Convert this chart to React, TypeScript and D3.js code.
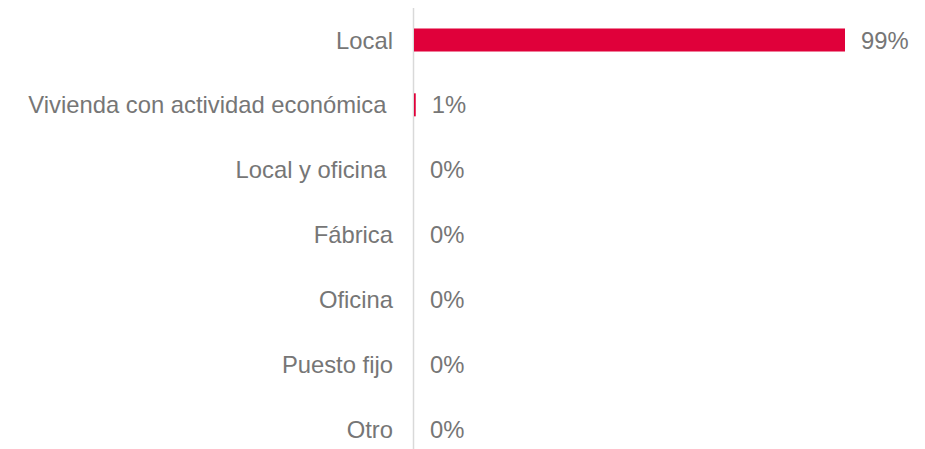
import React from "react";
import * as d3 from "d3";

const categories = [
  "Local",
  "Vivienda con actividad económica ",
  "Local y oficina ",
  "Fábrica",
  "Oficina",
  "Puesto fijo",
  "Otro",
];
const values = [99.4, 0.4, 0, 0, 0, 0, 0];
const valueLabels = ["99%", "1%", "0%", "0%", "0%", "0%", "0%"];

const W = 925;
const H = 449;

export default function App() {
  const x = d3.scaleLinear().domain([0, 100]).range([414, 847.6]);
  const step = (429 - 40) / 6;
  const p = 0.645;
  const y = d3
    .scaleBand<string>()
    .domain(categories)
    .range([40 - step / 2, 429 + step / 2])
    .paddingInner(p)
    .paddingOuter(p / 2);
  const font = "'Liberation Sans', Arial, sans-serif";
  const textColor = "#767676";
  return (
    <svg
      width={W}
      height={H}
      style={{ position: "absolute", left: 0, top: 0, background: "#fff" }}
    >
      <line x1={413.5} x2={413.5} y1={8} y2={H} stroke="#d9d9d9" strokeWidth={1.5} />
      {categories.map((c, i) => {
        const yy = y(c)!;
        const cy = yy + y.bandwidth() / 2;
        const w = x(values[i]) - x(0);
        return (
          <g key={c}>
            {w > 0 && (
              <rect x={x(0)} y={yy} width={w} height={y.bandwidth()} fill="#E0003A" />
            )}
            <text
              x={393}
              y={cy}
              textAnchor="end"
              dominantBaseline="central"
              fontFamily={font}
              fontSize={23.8}
              fill={textColor}
              style={{ whiteSpace: "pre" }}
            >
              {c}
            </text>
            <text
              x={x(values[i]) + 16}
              y={cy}
              dominantBaseline="central"
              fontFamily={font}
              fontSize={23.8}
              fill={textColor}
            >
              {valueLabels[i]}
            </text>
          </g>
        );
      })}
    </svg>
  );
}
